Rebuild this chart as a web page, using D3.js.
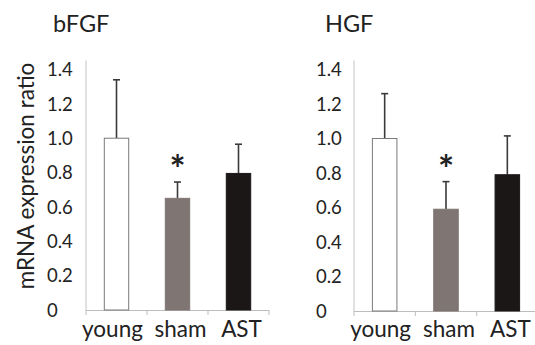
<!DOCTYPE html>
<html>
<head>
<meta charset="utf-8">
<script src="https://cdn.jsdelivr.net/npm/d3@7"></script>
<style>
  html, body { margin: 0; padding: 0; background: #fff; }
  svg { display: block; font-family: "Lato", "Liberation Sans", sans-serif; }
</style>
</head>
<body>
<svg id="chart" width="535" height="345"></svg>
<script>
// ---- data ----
const categories = ["young", "sham", "AST"];
const panelTitles = ["bFGF", "HGF"];
const bfgfMeans = [1.0, 0.65, 0.795];
const bfgfErrors = [0.34, 0.095, 0.17];
const hgfMeans = [1.0, 0.59, 0.79];
const hgfErrors = [0.26, 0.16, 0.225];
const significant = [false, true, false];
const yTicks = [0, 0.2, 0.4, 0.6, 0.8, 1.0, 1.2, 1.4];
const yTickLabels = ["0", "0.2", "0.4", "0.6", "0.8", "1.0", "1.2", "1.4"];
const yTitle = "mRNA expression ratio";
const barColors = ["#ffffff", "#7f7573", "#1b1717"];

const svg = d3.select("#chart");
const labelNudge = [-4, 3, 3];

const panels = [
  { title: panelTitles[0], means: bfgfMeans, errs: bfgfErrors, x0: 86, x1: 269, y0: 310, titleX: 53, labelX: 47 },
  { title: panelTitles[1], means: hgfMeans, errs: hgfErrors, x0: 354, x1: 538, y0: 311, titleX: 325, labelX: 316 }
];

panels.forEach((p, pi) => {
  const g = svg.append("g");
  const y = d3.scaleLinear().domain([0, 1.4]).range([p.y0, 69.5]);
  const x = d3.scaleBand().domain(categories).range([p.x0, p.x1]).padding(0);
  const bw = x.bandwidth() * 0.40;

  // title
  g.append("text").attr("x", p.titleX).attr("y", 32)
    .attr("font-size", 23.5).attr("fill", "#222").text(p.title);

  // y axis line
  g.append("line").attr("x1", p.x0).attr("x2", p.x0)
    .attr("y1", y(1.4) - 9).attr("y2", p.y0)
    .attr("stroke", "#c4c4c4").attr("stroke-width", 1);

  // y tick labels
  g.selectAll(".yt").data(yTicks).enter().append("text")
    .attr("x", p.labelX).attr("y", d => y(d)).attr("dy", "0.36em")
    .attr("font-size", 18.5).attr("fill", "#222")
    .text((d, i) => yTickLabels[i]);

  // x axis line and ticks
  g.append("line").attr("x1", p.x0).attr("x2", p.x1)
    .attr("y1", p.y0 + 0.5).attr("y2", p.y0 + 0.5)
    .attr("stroke", "#bdbdbd").attr("stroke-width", 1);
  const bounds = categories.map(c => x(c)).concat([p.x1]);
  g.selectAll(".xt").data(bounds).enter().append("line")
    .attr("x1", d => d).attr("x2", d => d)
    .attr("y1", p.y0).attr("y2", p.y0 + 5)
    .attr("stroke", "#bdbdbd").attr("stroke-width", 1);

  // x labels
  g.selectAll(".xl").data(categories).enter().append("text")
    .attr("x", (d, i) => x(d) + x.bandwidth() / 2 + labelNudge[i]).attr("y", 337)
    .attr("text-anchor", "middle").attr("font-size", 22.5).attr("fill", "#222")
    .text(d => d);

  // error bars
  categories.forEach((c, i) => {
    const cx = x(c) + x.bandwidth() / 2;
    g.append("line").attr("x1", cx).attr("x2", cx)
      .attr("y1", y(p.means[i])).attr("y2", y(p.means[i] + p.errs[i]))
      .attr("stroke", "#3a3a3a").attr("stroke-width", 1.6);
    g.append("line").attr("x1", cx - 3.5).attr("x2", cx + 3.5)
      .attr("y1", y(p.means[i] + p.errs[i])).attr("y2", y(p.means[i] + p.errs[i]))
      .attr("stroke", "#3a3a3a").attr("stroke-width", 1.6);
  });

  // bars
  g.selectAll(".bar").data(categories).enter().append("rect")
    .attr("x", d => x(d) + x.bandwidth() / 2 - bw / 2)
    .attr("y", (d, i) => y(p.means[i]))
    .attr("width", bw)
    .attr("height", (d, i) => p.y0 - y(p.means[i]))
    .attr("fill", (d, i) => barColors[i])
    .attr("stroke", (d, i) => i === 0 ? "#7a7a7a" : barColors[i])
    .attr("stroke-width", 1);

  // significance asterisks
  categories.forEach((c, i) => {
    if (!significant[i]) return;
    const cx = x(c) + x.bandwidth() / 2;
    g.append("text").attr("x", cx).attr("y", 183)
      .attr("text-anchor", "middle").attr("font-size", 38).attr("font-weight", "bold")
      .attr("fill", "#222").text("*");
  });
});

// y axis title
svg.append("text")
  .attr("transform", "translate(34,176) rotate(-90)")
  .attr("text-anchor", "middle").attr("font-size", 22.5).attr("fill", "#222")
  .text(yTitle);
</script>
</body>
</html>
